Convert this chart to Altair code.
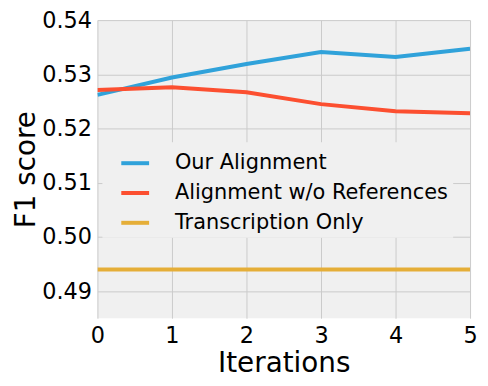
import altair as alt
import pandas as pd

iterations = [0, 1, 2, 3, 4, 5]
our_alignment = [0.5262, 0.5294, 0.5319, 0.5341, 0.5332, 0.5347]
no_references = [0.5271, 0.5276, 0.5267, 0.5245, 0.5232, 0.5228]
transcription_only = [0.4940, 0.4940, 0.4940, 0.4940, 0.4940, 0.4940]
series_names = ["Our Alignment", "Alignment w/o References", "Transcription Only"]
series_colors = ["#30a2da", "#fc4f30", "#e5ae38"]
y_ticks = [0.49, 0.50, 0.51, 0.52, 0.53, 0.54]

rows = []
for name, vals in zip(series_names, [our_alignment, no_references, transcription_only]):
    for i, v in zip(iterations, vals):
        rows.append({"Iteration": i, "F1": v, "Series": name})
df = pd.DataFrame(rows)

FONT = "DejaVu Sans"

chart = alt.Chart(df).mark_line(strokeWidth=4, clip=True).encode(
    x=alt.X("Iteration:Q", scale=alt.Scale(domain=[0, 5], nice=False),
            axis=alt.Axis(title="Iterations", values=iterations, format="d")),
    y=alt.Y("F1:Q", scale=alt.Scale(domain=[0.485, 0.54], nice=False, zero=False),
            axis=alt.Axis(title="F1 score", values=y_ticks, format=".2f")),
    color=alt.Color("Series:N",
                    scale=alt.Scale(domain=series_names, range=series_colors),
                    sort=series_names,
                    legend=alt.Legend(title=None, orient="none", legendX=5, legendY=123,
                                      fillColor="#f0f0f0", padding=5,
                                      symbolOffset=12,
                                      symbolType="stroke", symbolSize=784,
                                      symbolStrokeWidth=4, labelFontSize=21,
                                      labelFont=FONT, labelColor="#000000",
                                      labelOffset=24, rowPadding=4, labelLimit=400)),
).properties(
    width=375, height=300,
    autosize=alt.AutoSizeParams(type="none"),
    padding={"left": 90, "top": 11, "right": 10, "bottom": 61},
    background="white",
).configure_view(
    fill="#f0f0f0", stroke=None
).configure_axis(
    grid=True, gridColor="#cbcbcb", gridWidth=1, domain=False, ticks=False,
    labelFlush=False,
    labelFont=FONT, labelFontSize=22.5, labelColor="#000000",
    titleFont=FONT, titleFontSize=28, titleFontWeight="normal", titleColor="#000000",
).configure_axisX(
    labelPadding=6, titlePadding=3.5
).configure_axisY(
    labelPadding=6, titlePadding=1
)

chart.save("out.html", embed_options={"renderer": "svg", "actions": False})
